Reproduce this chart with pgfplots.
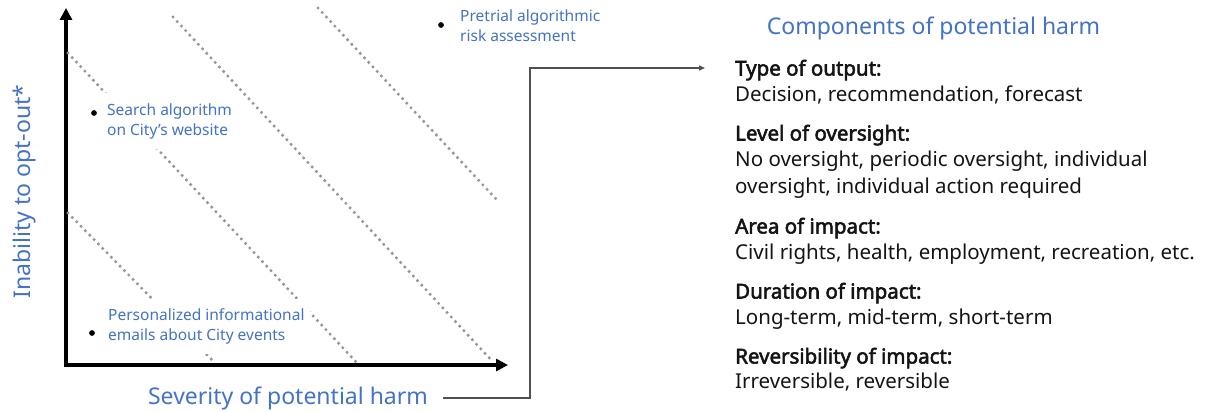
\documentclass[border=0pt]{standalone}
\usepackage{fontspec}
\setmainfont{Noto Sans}
\newfontfamily\headfont[FakeBold=2.6]{Noto Sans}
\usepackage{pgfplots}
\pgfplotsset{compat=1.18}
\usetikzlibrary{arrows.meta}
\definecolor{harmblue}{RGB}{68,114,196}
\definecolor{dotgray}{RGB}{150,150,150}
\definecolor{textdark}{RGB}{20,20,20}
\definecolor{linkgray}{RGB}{80,80,80}
\tikzset{
  point label/.style={font=\fontsize{15.5bp}{20bp}\selectfont, text=harmblue,
    fill=white, align=left, inner xsep=5bp, inner ysep=10bp, anchor=west},
  body/.style={font=\fontsize{20.5bp}{24bp}\selectfont, text=textdark,
    anchor=base west, inner sep=0pt},
  head/.style={body, font=\fontsize{20.5bp}{24bp}\headfont},
  band/.style={dotgray, line width=3.4bp, line cap=round, dash pattern=on 0pt off 6.2bp},
}

\begin{document}
\begin{tikzpicture}
\begin{axis}[
  width=442bp, height=357bp, scale only axis,
  xmin=0, xmax=442, ymin=0, ymax=357,
  axis lines=left,
  axis line style={line width=4.5bp, black, line cap=rect,
    -{Triangle[length=12bp,width=12bp]}},
  xtick=\empty, ytick=\empty,
  clip=false,
]
  % iso-harm bands
  \addplot[band] coordinates {(2,312) (291,2)};
  \addplot[band] coordinates {(2,152) (149,2)};
  \addplot[band] coordinates {(107,348) (427,3)};
  \addplot[band] coordinates {(252,357) (431,165)};
  % example systems
  \addplot[only marks, mark=*, mark size=2.6bp, black]
    coordinates {(375,340) (28,252) (26,32)};

  \node[point label] at (axis cs:389,339.5) {Pretrial algorithmic\\risk assessment};
  \node[point label] at (axis cs:36,244) {Search algorithm\\on City's website};
  \node[point label] at (axis cs:37,38.5) {Personalized informational\\emails about City events};

  % axis titles
  \node[font=\fontsize{23bp}{26bp}\selectfont, text=harmblue, anchor=base]
    at (axis cs:222,-39.2) {Severity of potential harm};
  \node[font=\fontsize{23bp}{26bp}\selectfont, text=harmblue, anchor=base, rotate=90]
    at (axis cs:-35.8,173.5) {Inability to opt-out*};

  % connector to the components list
  \draw[linkgray, line width=1.3bp, -{Triangle[length=6bp,width=5bp]}]
    (axis cs:377,-33) -- (axis cs:464,-33) -- (axis cs:464,297) -- (axis cs:639,297);

  % components of potential harm
  \node[font=\fontsize{23bp}{26bp}\selectfont, text=harmblue, anchor=base]
    at (axis cs:867.5,330.8) {Components of potential harm};
  \node[head] at (axis cs:669,289.5) {Type of output:};
  \node[body] at (axis cs:669,263.8) {Decision, recommendation, forecast};
  \node[head] at (axis cs:669,224.5) {Level of oversight:};
  \node[body] at (axis cs:669,198.5) {No oversight, periodic oversight, individual};
  \node[body] at (axis cs:669,171.5) {oversight, individual action required};
  \node[head] at (axis cs:669,131.5) {Area of impact:};
  \node[body] at (axis cs:669,105.5) {Civil rights, health, employment, recreation, etc.};
  \node[head] at (axis cs:669,66.5) {Duration of impact:};
  \node[body] at (axis cs:669,40.5) {Long-term, mid-term, short-term};
  \node[head] at (axis cs:669,1.5) {Reversibility of impact:};
  \node[body] at (axis cs:669,-23.5) {Irreversible, reversible};

  \coordinate (bl) at (axis cs:-66,-47);
  \coordinate (tr) at (axis cs:1140,365);
\end{axis}
\pgfresetboundingbox
\path (bl) rectangle (tr);
\end{tikzpicture}
\end{document}
